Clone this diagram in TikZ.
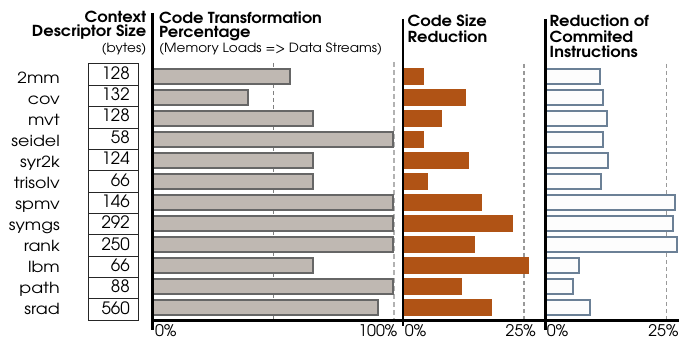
\documentclass[tikz,border=0pt]{standalone}
\usepackage{fontspec}
\setmainfont{texgyreadventor}[Extension=.otf,UprightFont=*-regular,BoldFont=*-bold]
\newfontfamily\ttlfont{texgyreadventor}[Extension=.otf,UprightFont=*-regular,BoldFont=*-bold,FakeStretch=1.07]
\newfontfamily\lblfont{texgyreadventor}[Extension=.otf,UprightFont=*-regular,BoldFont=*-bold,FakeStretch=1.14]
\definecolor{barA}{HTML}{BFB8B2}
\definecolor{barAline}{HTML}{666666}
\definecolor{barB}{HTML}{B05315}
\definecolor{barCline}{HTML}{6B8096}
\definecolor{barC}{HTML}{FDFDFD}
\begin{document}
\begin{tikzpicture}[x=1pt,y=-1pt,
  ttl/.style={inner sep=0,font=\ttlfont\fontsize{15.2}{15}\bfseries\selectfont},
  subt/.style={inner sep=0,font=\ttlfont\fontsize{12.7}{12.5}\selectfont},
  rowlbl/.style={inner sep=0,anchor=base east,font=\lblfont\fontsize{15.3}{15}\selectfont},
  numtxt/.style={inner sep=0,anchor=base east,font=\fontsize{17}{17}\selectfont},
  numbox/.style={draw=black!85,line width=0.9pt,minimum width=50pt,minimum height=21.35pt,inner sep=0,anchor=north west},
  axlbl/.style={inner sep=0,font=\fontsize{16}{16}\selectfont},
  axisline/.style={line width=2.5pt,black},
  gridA/.style={draw=black!50,line width=1.2pt,dash pattern=on 4pt off 3pt},
  gridB/.style={draw=black!30,line width=1.4pt,dash pattern=on 5pt off 3pt},
  gridC/.style={draw=black!40,line width=1.2pt,dash pattern=on 4pt off 3pt},
  barone/.style={fill=barA,draw=barAline,line width=2pt},
  bartwo/.style={fill=barB},
  barthree/.style={fill=barC,draw=barCline,line width=2pt}]
\useasboundingbox (0,0) rectangle (679,339);
% titles
\node[ttl,anchor=base east] (ctxa) at (146.5,22.7) {Context};
\node[ttl,anchor=base east] (ctxb) at (146.5,37) {Descriptor Size};
\node[subt,anchor=base east] (ctxc) at (146.5,52.5) {(bytes)};
\node[ttl,anchor=base west] (ta) at (159,23.3) {Code Transformation};
\node[ttl,anchor=base west] (tb) at (159,37.3) {Percentage};
\node[subt,anchor=base west] (tc) at (159,52.5) {(Memory Loads => Data Streams)};
\node[ttl,anchor=base west] (csa) at (407.5,27) {Code Size};
\node[ttl,anchor=base west] (csb) at (407.5,42.5) {Reduction};
\node[ttl,anchor=base west] (rca) at (549.5,27) {Reduction of};
\node[ttl,anchor=base west] (rcb) at (549.5,42.5) {Commited};
\node[ttl,anchor=base west] (rcc) at (549.5,57.5) {Instructions};
% grid lines
\draw[gridA] (273.5,63) -- (273.5,320);
\draw[gridB] (394,62) -- (394,320);
\draw[gridC] (524,64) -- (524,320);
\draw[gridC] (666.7,64) -- (666.7,320);
% rows
\foreach \i/\nm/\by/\a/\b/\c in {0/2mm/128/291/424/601,1/cov/132/249/466/604,2/mvt/128/314/442/608,3/seidel/58/394/424/604,4/syr2k/124/314/469/609,5/trisolv/66/314/428/602,6/spmv/146/394/482/676,7/symgs/292/394/513/674,8/rank/250/394/475/678,9/lbm/66/314/529/580,10/path/88/394/462/574,11/srad/560/379/492/591}{
  \pgfmathsetmacro\t{67.9+21.05*\i}
  \pgfmathsetmacro\bt{63.5+21.35*\i}
  \pgfmathsetmacro\lb{83.3+21.06*\i}
  \node[rowlbl] (l\i) at (60,\lb) {\nm};
  \node[numbox] (b\i) at (88,\bt) {};
  \node[numtxt] (n\i) at (130,\bt+15.8) {\by};
  \draw[barone] (153,\t+1) rectangle (\a-1,\t+16);
  \fill[bartwo] (403,\t) rectangle (\b,\t+17);
  \draw[barthree] (546,\t+1) rectangle (\c-1,\t+16);
}
% axes
\draw[axisline] (152.5,13) -- (152.5,330);
\draw[axisline] (403,19) -- (403,326);
\draw[axisline] (545.7,19) -- (545.7,330);
\draw[axisline] (152.5,320.5) -- (679,320.5);
% axis labels
\node[axlbl,anchor=base west] (a0) at (155,336) {0\%};
\node[axlbl,anchor=base east] (a1) at (397.5,336) {100\%};
\node[axlbl,anchor=base west] (b0) at (404.7,336) {0\%};
\node[axlbl,anchor=base east] (b1) at (536,336) {25\%};
\node[axlbl,anchor=base west] (c0) at (546.7,336) {0\%};
\node[axlbl,anchor=base east] (c1) at (678.7,336) {25\%};
\end{tikzpicture}
\end{document}
